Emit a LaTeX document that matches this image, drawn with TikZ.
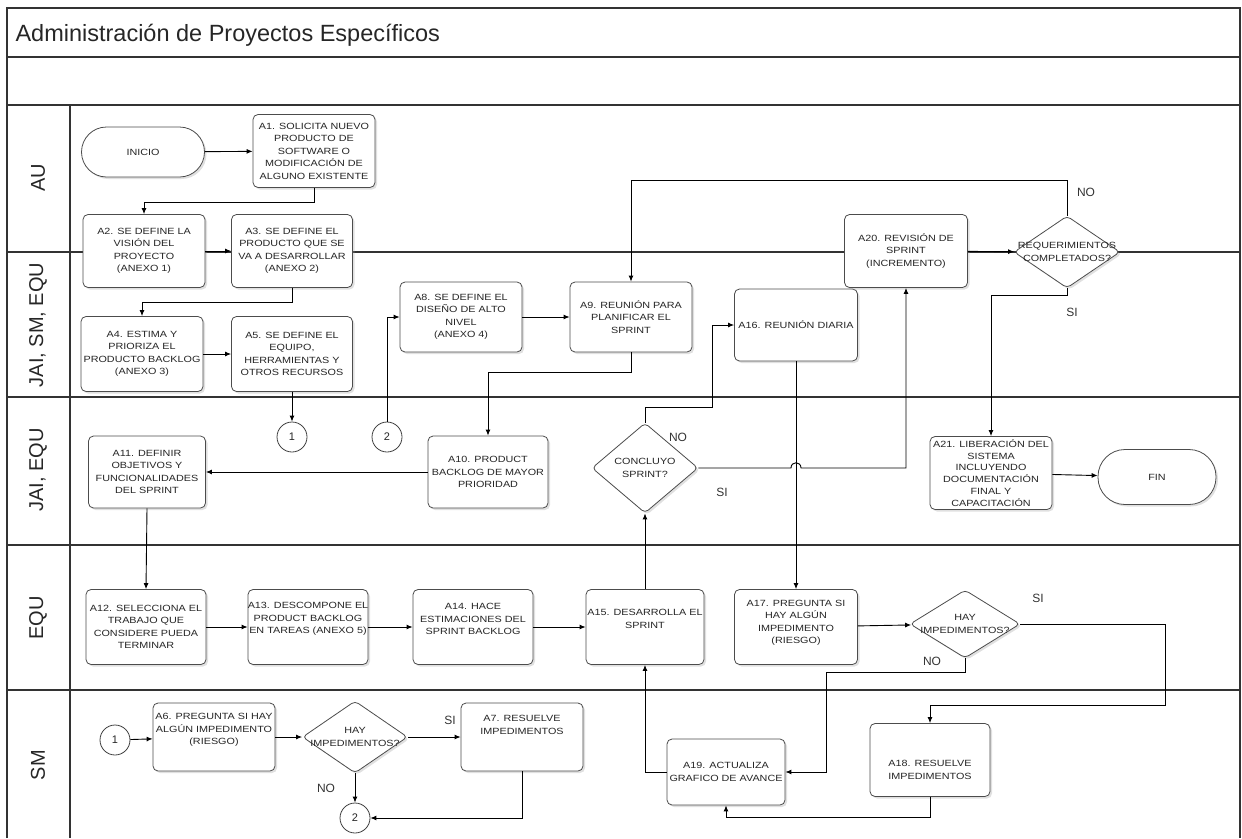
\documentclass[tikz,border=0pt]{standalone}
\usepackage{fontspec}
\setmainfont{Liberation Sans}
\newfontfamily\boxfont[FakeStretch=1.2]{Liberation Sans}
\usetikzlibrary{shapes.geometric,arrows.meta,shadows,calc}
\begin{document}
\begin{tikzpicture}[x=1pt,y=-1pt,
  frame/.style={draw=black!80, line width=1.3pt},
  shade/.style={drop shadow={shadow xshift=2pt, shadow yshift=-2pt, opacity=0.3, fill=black!40}},
  btxt/.style={align=center, font=\boxfont\fontsize{9}{12.5}\selectfont, text=black!85, inner sep=0pt},
  box/.style={draw=black!70, line width=0.8pt, rounded corners=5pt, fill=white, shade,
     minimum width=122pt, minimum height=73pt, inner sep=1pt, btxt},
  term/.style={box, rounded corners=25pt, minimum height=50pt},
  dia/.style={diamond, draw=black!70, line width=0.8pt, rounded corners=4pt, fill=white, shade, inner sep=0pt},
  conn/.style={circle, draw=black!75, line width=0.8pt, fill=white, minimum size=30pt, inner sep=0pt,
     font=\fontsize{11}{13}\selectfont, text=black!85},
  flow/.style={draw=black, line width=0.9pt, -{Latex[length=6pt,width=5pt]}},
  tag/.style={font=\fontsize{12}{14}\selectfont, text=black!80, inner sep=0pt},
  lane/.style={rotate=90, font=\fontsize{20}{24}\selectfont, text=black!85, inner sep=0pt},
]
\useasboundingbox (0,0) rectangle (1242,838);

% frame, title row and swimlanes
\draw[frame] (7,838) -- (7,8) -- (1240,8) -- (1240,838);
\foreach \yy in {57,105,252,397,545,690} \draw[frame] (7,\yy) -- (1240,\yy);
\draw[frame] (70,105) -- (70,838);
\node[anchor=base west, font=\fontsize{23.5}{27}\selectfont, text=black!85] (title) at (12,41) {Administración de Proyectos Específicos};
\node[lane] (lau) at (38,178) {AU};
\node[lane] (ljse) at (38,325) {JAI, SM, EQU};
\node[lane] (lje) at (38,470) {JAI, EQU};
\node[lane] (leq) at (38,618) {EQU};
\node[lane] (lsm) at (38,765) {SM};

% AU and JAI, SM, EQU
\node[term, minimum width=123pt] (inicio) at (143,152) {INICIO};
\node[box] (a1) at (314,151) {A1. SOLICITA NUEVO\\PRODUCTO DE\\SOFTWARE O\\MODIFICACIÓN DE\\ALGUNO EXISTENTE};
\node[box] (a2) at (144,251) {A2. SE DEFINE LA\\VISIÓN DEL\\PROYECTO\\(ANEXO 1)};
\node[box, minimum width=121pt] (a3) at (292,251) {A3. SE DEFINE EL\\PRODUCTO QUE SE\\VA A DESARROLLAR\\(ANEXO 2)};
\node[box, minimum height=75pt] (a4) at (142,354) {A4. ESTIMA Y\\PRIORIZA EL\\PRODUCTO BACKLOG\\(ANEXO 3)};
\node[box, minimum height=75pt, minimum width=121pt] (a5) at (292,354) {A5. SE DEFINE EL\\EQUIPO,\\HERRAMIENTAS Y\\OTROS RECURSOS};
\node[box, minimum height=70pt] (a8) at (461,317) {A8. SE DEFINE EL\\DISEÑO DE ALTO\\NIVEL\\(ANEXO 4)};
\node[box, minimum height=70pt] (a9) at (631,317) {A9. REUNIÓN PARA\\PLANIFICAR EL\\SPRINT};
\node[box, minimum height=72pt, minimum width=123pt] (a16) at (796,325) {A16. REUNIÓN DIARIA};
\node[box, minimum width=123pt] (a20) at (906,251) {A20. REVISIÓN DE\\SPRINT\\(INCREMENTO)};
\node[dia, minimum width=106pt, minimum height=72pt,
  label={[btxt]center:{REQUERIMIENTOS\\COMPLETADOS?}}] (req) at (1067,252) {};

% JAI, EQU
\node[conn] (c1) at (292,437) {1};
\node[conn] (c2) at (387,437) {2};
\node[box, minimum width=117pt, minimum height=72pt] (a11) at (147,472) {A11. DEFINIR\\OBJETIVOS Y\\FUNCIONALIDADES\\DEL SPRINT};
\node[box, minimum width=120pt, minimum height=72pt] (a10) at (488,472) {A10. PRODUCT\\BACKLOG DE MAYOR\\PRIORIDAD};
\node[dia, minimum width=106pt, minimum height=90pt,
  label={[btxt]center:{CONCLUYO\\SPRINT?}}] (conc) at (645,468) {};
\node[box, font=\boxfont\fontsize{9}{11.8}\selectfont] (a21) at (991,473) {A21. LIBERACIÓN DEL\\SISTEMA\\INCLUYENDO\\DOCUMENTACIÓN\\FINAL Y\\CAPACITACIÓN};
\node[term, minimum width=118pt, minimum height=55pt, rounded corners=27pt] (fin) at (1157,477) {FIN};

% EQU
\node[box, minimum width=120pt, minimum height=75pt] (a12) at (146,627) {A12. SELECCIONA EL\\TRABAJO QUE\\CONSIDERE PUEDA\\TERMINAR};
\node[box, minimum width=120pt, minimum height=75pt,
  label={[btxt, yshift=8pt]center:{A13. DESCOMPONE EL\\PRODUCT BACKLOG\\EN TAREAS (ANEXO 5)}}] (a13) at (308,627) {};
\node[box, minimum width=120pt, minimum height=75pt,
  label={[btxt, yshift=8pt]center:{A14. HACE\\ESTIMACIONES DEL\\SPRINT BACKLOG}}] (a14) at (473,627) {};
\node[box, minimum width=118pt, minimum height=75pt,
  label={[btxt, yshift=8pt]center:{A15. DESARROLLA EL\\SPRINT}}] (a15) at (645,627) {};
\node[box, minimum width=123pt, minimum height=75pt,
  label={[btxt, yshift=4pt]center:{A17. PREGUNTA SI\\HAY ALGÚN\\IMPEDIMENTO\\(RIESGO)}}] (a17) at (796,627) {};
\node[dia, minimum width=110pt, minimum height=68pt,
  label={[btxt]center:{HAY\\IMPEDIMENTOS?}}] (hay1) at (965,624) {};

% SM
\node[conn] (c3) at (115,740) {1};
\node[box, minimum height=68pt,
  label={[btxt, yshift=7pt]center:{A6. PREGUNTA SI HAY\\ALGÚN IMPEDIMENTO\\(RIESGO)}}] (a6) at (214,737) {};
\node[dia, minimum width=105pt, minimum height=72pt,
  label={[btxt]center:{HAY\\IMPEDIMENTOS?}}] (hay2) at (355,737) {};
\node[box, minimum height=68pt,
  label={[btxt, yshift=12pt]center:{A7. RESUELVE\\IMPEDIMENTOS}}] (a7) at (522,737) {};
\node[conn] (c4) at (355,818) {2};
\node[box, minimum width=118pt, minimum height=66pt] (a19) at (726,772) {A19. ACTUALIZA\\GRAFICO DE AVANCE};
\node[box, minimum width=120pt, minimum height=73pt,
  label={[btxt, yshift=-10pt]center:{A18. RESUELVE\\IMPEDIMENTOS}}] (a18) at (930,760) {};

% branch labels
\node[tag] (tno1) at (1086,192) {NO};
\node[tag] (tsi1) at (1072,312) {SI};
\node[tag] (tno2) at (678,437) {NO};
\node[tag] (tsi2) at (722,492) {SI};
\node[tag] (tsi3) at (1038,598) {SI};
\node[tag] (tno3) at (932,661) {NO};
\node[tag] (tsi4) at (450,720) {SI};
\node[tag] (tno4) at (326,788) {NO};

% bend points
\coordinate (kreq) at (1067,180);
\coordinate (ksi) at (991,295);
\coordinate (kc) at (712,407);
\coordinate (kh1) at (1165,705);
\coordinate (kh2) at (826,672);

% connectors
\draw[flow] (inicio) -- (a1);
\draw[flow] (a1.south) -- ++(0,15) -| (a2.north);
\draw[flow] (a2) -- (a3);
\draw[flow] (a3.south) -- ++(0,15) -| (a4.north);
\draw[flow] (a4) -- (a5);
\draw[flow] (a5.south) -- (c1.north);
\draw[flow] (c2.north) |- (a8.west);
\draw[flow] (a8) -- (a9);
\draw[flow] (a9.south) -- ++(0,20) -| (a10.north);
\draw[flow] (a10) -- (a11);
\draw[flow] (a11.south) -- (a12.north);
\draw[flow] (a12) -- (a13);
\draw[flow] (a13) -- (a14);
\draw[flow] (a14) -- (a15);
\draw[flow] (a15.north) -- (conc.south);
\draw[flow] (conc.north) |- (kc) |- (a16.west);
\draw[flow] (conc.east) -- (791,468) .. controls (791,461) and (801,461) .. (801,468) -| (a20.south);
\draw[flow] (a16.south) -- (a17.north);
\draw[flow] (a17) -- (hay1);
\draw[flow] (hay1.east) -| (kh1) -| (a18.north);
\draw[flow] (hay1.south) |- (kh2) |- (a19.east);
\draw[flow] (a18.south) -- ++(0,21) -| (a19.south);
\draw[flow] (a19.west) -| (a15.south);
\draw[flow] (a20) -- (req);
\draw[flow] (req.north) -- (kreq) -| (a9.north);
\draw[flow] (req.south) |- (ksi) -- (a21.north);
\draw[flow] (a21) -- (fin);
\draw[flow] (c3) -- (a6);
\draw[flow] (a6) -- (hay2);
\draw[flow] (hay2) -- (a7);
\draw[flow] (hay2.south) -- (c4.north);
\draw[flow] (a7.south) |- (c4.east);
\end{tikzpicture}
\end{document}
